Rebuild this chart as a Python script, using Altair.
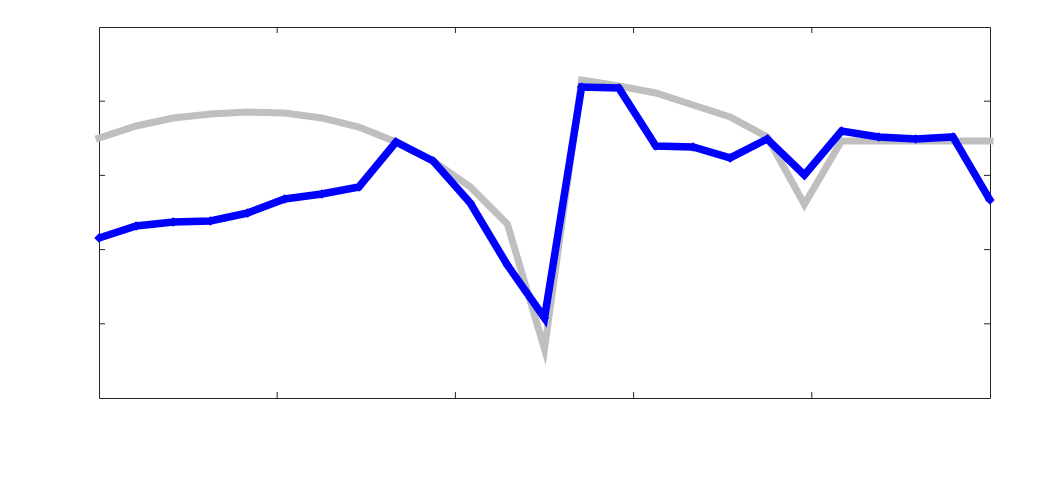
import altair as alt
import pandas as pd

x_vals = list(range(25))
blue_vals = [2.156, 2.318, 2.372, 2.385, 2.493, 2.682, 2.749, 2.844, 3.450, 3.194,
             2.628, 1.792, 1.078, 4.191, 4.178, 3.396, 3.383, 3.235, 3.491, 3.005,
             3.598, 3.518, 3.491, 3.518, 2.668]
gray_vals = [3.504, 3.666, 3.774, 3.827, 3.854, 3.841, 3.774, 3.652, 3.450, 3.194,
             2.844, 2.345, 0.66, 4.286, 4.205, 4.111, 3.949, 3.787, 3.518, 2.61,
             3.464, 3.464, 3.464, 3.464, 3.464]
x_ticks = [4.8, 9.6, 14.4, 19.2]
y_ticks = [1, 2, 3, 4]

W, H = 891, 371
xs = alt.Scale(domain=[0, 24], nice=False, zero=False)
ys = alt.Scale(domain=[0, 5], nice=False, zero=False)

df_gray = pd.DataFrame({"x": x_vals, "y": gray_vals})
df_blue = pd.DataFrame({"x": x_vals, "y": blue_vals})
df_xt = pd.DataFrame({"tx": x_ticks})
df_yt = pd.DataFrame({"ty": y_ticks})

gray = alt.Chart(df_gray).mark_line(color="#bfbfbf", strokeWidth=7, strokeCap="square",
                                    strokeJoin="miter", strokeMiterLimit=20).encode(
    x=alt.X("x:Q", scale=xs, axis=None), y=alt.Y("y:Q", scale=ys, axis=None))

blue = alt.Chart(df_blue).mark_line(
    color="#0000ff", strokeWidth=7.5, strokeJoin="miter",
    point=alt.OverlayMarkDef(shape="diamond", size=90, filled=True, color="#0000ff")
).encode(x=alt.X("x:Q", scale=xs, axis=None), y=alt.Y("y:Q", scale=ys, axis=None))

tick_style = dict(color="#262626", strokeWidth=1)
xt_bot = alt.Chart(df_xt).mark_rule(**tick_style).encode(
    x=alt.X("tx:Q", scale=xs, axis=None), y=alt.value(H), y2=alt.value(H - 6))
xt_top = alt.Chart(df_xt).mark_rule(**tick_style).encode(
    x=alt.X("tx:Q", scale=xs, axis=None), y=alt.value(0), y2=alt.value(6))
yt_left = alt.Chart(df_yt).mark_rule(**tick_style).encode(
    y=alt.Y("ty:Q", scale=ys, axis=None), x=alt.value(0), x2=alt.value(6))
yt_right = alt.Chart(df_yt).mark_rule(**tick_style).encode(
    y=alt.Y("ty:Q", scale=ys, axis=None), x=alt.value(W), x2=alt.value(W - 6))

chart = alt.layer(gray, blue, xt_bot, xt_top, yt_left, yt_right).properties(
    width=W, height=H,
    background="white",
    autosize=alt.AutoSizeParams(type="none"),
    padding={"left": 91, "top": 19, "right": 40, "bottom": 80},
).configure_view(stroke="#262626", strokeWidth=1)

chart.save("out.html", embed_options={"renderer": "svg", "actions": False})
